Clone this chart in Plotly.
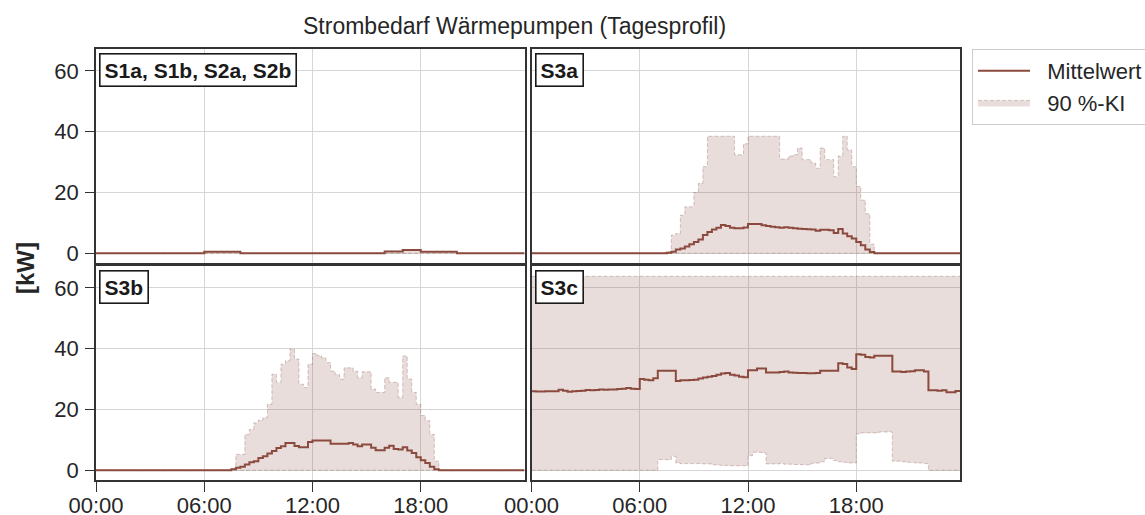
import plotly.graph_objects as go

# ---------------- data (15-min resolution, 96 slots per day) ----------------
TICK_HOURS = [0, 6, 12, 18]
TICK_LABELS = ["00:00", "06:00", "12:00", "18:00"]
Y_TICKS = [0, 20, 40, 60]
PANEL_NAMES = ["S1a, S1b, S2a, S2b", "S3a", "S3b", "S3c"]
HOURS = [q / 4 for q in range(96)]

S1_MEAN = [
    0, 0, 0, 0,  0, 0, 0, 0,  0, 0, 0, 0,  0, 0, 0, 0,  0, 0, 0, 0,  0, 0, 0, 0,
    0.5, 0.5, 0.5, 0.5,  0.5, 0.5, 0.5, 0.5,
    0, 0, 0, 0,  0, 0, 0, 0,  0, 0, 0, 0,  0, 0, 0, 0,
    0, 0, 0, 0,  0, 0, 0, 0,  0, 0, 0, 0,  0, 0, 0, 0,
    0.6, 0.6, 0.6, 0.6,  1.1, 1.1, 1.1, 1.1,  0.5, 0.5, 0.5, 0.5,  0.5, 0.5, 0.5, 0.5,
    0, 0, 0, 0,  0, 0, 0, 0,  0, 0, 0, 0,  0, 0, 0, 0,
]
S1_UP = [
    0, 0, 0, 0,  0, 0, 0, 0,  0, 0, 0, 0,  0, 0, 0, 0,  0, 0, 0, 0,  0, 0, 0, 0,
    0.6, 0.6, 0.6, 0.6,  0.6, 0.6, 0.6, 0.6,
    0, 0, 0, 0,  0, 0, 0, 0,  0, 0, 0, 0,  0, 0, 0, 0,
    0, 0, 0, 0,  0, 0, 0, 0,  0, 0, 0, 0,  0, 0, 0, 0,
    0.7, 0.7, 0.7, 0.7,  1.2, 1.2, 1.2, 1.2,  0.6, 0.6, 0.6, 0.6,  0.6, 0.6, 0.6, 0.6,
    0, 0, 0, 0,  0, 0, 0, 0,  0, 0, 0, 0,  0, 0, 0, 0,
]
S1_LOW = [0] * 96

S3A_MEAN = [
    0, 0, 0, 0,  0, 0, 0, 0,  0, 0, 0, 0,  0, 0, 0, 0,  0, 0, 0, 0,  0, 0, 0, 0,   # 00-05
    0, 0, 0, 0,                       # 06
    0, 0, 0.2, 0.5,                   # 07
    1.2, 1.6, 2.2, 3.0,               # 08
    3.7, 4.5, 6.0, 7.0,               # 09
    7.8, 8.4, 9.3, 9.0,               # 10
    8.4, 8.2, 8.2, 8.5,               # 11
    9.6, 9.6, 9.6, 9.2,               # 12
    9.0, 8.7, 8.6, 8.4,               # 13
    8.6, 8.4, 8.2, 8.1,               # 14
    8.0, 7.9, 7.8, 7.4,               # 15
    7.7, 7.7, 7.6, 6.7,               # 16
    8.0, 6.5, 5.6, 4.9,               # 17
    3.7, 2.6, 1.2, 0.4,               # 18
    0, 0, 0, 0,  0, 0, 0, 0,  0, 0, 0, 0,  0, 0, 0, 0,  0, 0, 0, 0,               # 19-23
]
S3A_UP = [
    0, 0, 0, 0,  0, 0, 0, 0,  0, 0, 0, 0,  0, 0, 0, 0,  0, 0, 0, 0,  0, 0, 0, 0,   # 00-05
    0, 0, 0, 0,                       # 06
    0, 0, 0.5, 6.0,                   # 07
    6.5, 12.5, 15.3, 15.3,            # 08
    20.0, 23.0, 28.5, 38.5,           # 09
    38.5, 38.5, 38.5, 38.5,           # 10
    38.5, 32.4, 32.4, 36.0,           # 11
    38.5, 38.5, 38.5, 38.5,           # 12
    38.5, 38.5, 38.5, 31.0,           # 13
    31.0, 32.0, 32.4, 34.6,           # 14
    30.8, 30.8, 29.7, 28.0,           # 15
    34.6, 30.8, 30.8, 25.2,           # 16
    32.0, 38.5, 34.0, 28.5,           # 17
    22.0, 17.5, 13.0, 3.0,            # 18
    0, 0, 0, 0,  0, 0, 0, 0,  0, 0, 0, 0,  0, 0, 0, 0,  0, 0, 0, 0,               # 19-23
]
S3A_LOW = [0] * 96

S3B_MEAN = [
    0, 0, 0, 0,  0, 0, 0, 0,  0, 0, 0, 0,  0, 0, 0, 0,  0, 0, 0, 0,  0, 0, 0, 0,   # 00-05
    0, 0, 0, 0,                       # 06
    0, 0, 0.3, 0.8,                   # 07
    1.2, 1.9, 2.6, 3.0,               # 08
    4.0, 4.6, 5.5, 6.3,               # 09
    7.3, 7.9, 9.0, 9.0,               # 10
    8.0, 7.6, 7.6, 9.3,               # 11
    9.8, 9.8, 9.8, 9.8,               # 12
    8.7, 8.7, 8.7, 8.7,               # 13
    9.0, 8.5, 7.9, 8.5,               # 14
    8.5, 7.4, 6.6, 6.6,               # 15
    7.4, 8.1, 7.0, 6.8,               # 16
    7.6, 6.5, 5.7, 4.3,               # 17
    3.3, 2.4, 1.2, 0.3,               # 18
    0, 0, 0, 0,  0, 0, 0, 0,  0, 0, 0, 0,  0, 0, 0, 0,  0, 0, 0, 0,               # 19-23
]
S3B_UP = [
    0, 0, 0, 0,  0, 0, 0, 0,  0, 0, 0, 0,  0, 0, 0, 0,  0, 0, 0, 0,  0, 0, 0, 0,   # 00-05
    0, 0, 0, 0,                       # 06
    0, 0, 0.5, 5.2,                   # 07
    5.2, 11.8, 13.4, 15.6,            # 08
    16.5, 17.3, 21.7, 31.6,           # 09
    28.9, 34.9, 36.0, 39.9,           # 10
    36.6, 28.3, 27.2, 34.9,           # 11
    38.4, 37.7, 37.0, 35.4,           # 12
    32.6, 31.5, 30.0, 33.7,           # 13
    33.7, 32.6, 30.4, 32.4,           # 14
    32.4, 26.7, 25.6, 25.6,           # 15
    30.4, 28.9, 28.9, 23.9,           # 16
    37.6, 30.0, 25.6, 21.7,           # 17
    18.0, 16.3, 11.8, 3.0,            # 18
    0, 0, 0, 0,  0, 0, 0, 0,  0, 0, 0, 0,  0, 0, 0, 0,  0, 0, 0, 0,               # 19-23
]
S3B_LOW = [0] * 96

S3C_MEAN = [
    26.0, 25.9, 25.9, 26.0,   # 00
    26.0, 26.0, 26.5, 26.2,   # 01
    25.8, 26.0, 26.1, 26.2,   # 02
    26.4, 26.3, 26.4, 26.6,   # 03
    26.5, 26.6, 26.6, 26.7,   # 04
    26.8, 27.1, 26.8, 26.7,   # 05
    30.0, 29.8, 29.6, 30.3,   # 06
    32.7, 32.7, 32.7, 32.7,   # 07
    29.4, 29.6, 29.6, 29.7,   # 08
    29.8, 30.2, 30.5, 30.8,   # 09
    31.0, 31.4, 31.8, 32.0,   # 10
    31.4, 31.2, 30.8, 30.6,   # 11
    32.9, 32.9, 33.5, 33.5,   # 12
    32.2, 32.2, 32.2, 32.3,   # 13
    32.5, 32.2, 32.1, 32.0,   # 14
    32.0, 31.9, 31.9, 32.0,   # 15
    32.7, 32.7, 32.7, 32.7,   # 16
    35.2, 35.0, 33.8, 33.3,   # 17
    38.2, 38.0, 37.3, 37.1,   # 18
    37.7, 37.7, 37.7, 37.7,   # 19
    32.5, 32.5, 32.3, 32.5,   # 20
    32.6, 32.9, 32.9, 32.5,   # 21
    26.3, 26.3, 26.2, 26.3,   # 22
    25.7, 25.7, 26.1, 26.1,   # 23
]
S3C_UP = [63.8] * 96
S3C_LOW = [
    0, 0, 0, 0,  0, 0, 0, 0,  0, 0, 0, 0,  0, 0, 0, 0,  0, 0, 0, 0,  0, 0, 0, 0,   # 00-05
    0, 0, 0, 0,               # 06
    3.5, 3.5, 3.5, 4.6,       # 07
    2.4, 2.2, 2.2, 2.2,       # 08
    2.2, 2.2, 2.1, 2.1,       # 09
    1.8, 1.7, 1.6, 1.6,       # 10
    1.5, 1.5, 1.5, 1.5,       # 11
    4.8, 5.9, 5.9, 5.7,       # 12
    2.1, 2.1, 2.1, 2.2,       # 13
    2.0, 2.0, 1.9, 1.9,       # 14
    1.8, 1.8, 2.3, 2.4,       # 15
    2.8, 3.9, 3.9, 3.2,       # 16
    2.8, 2.6, 2.4, 2.4,       # 17
    12.0, 12.3, 12.3, 12.3,   # 18
    12.3, 12.6, 12.6, 12.6,   # 19
    3.0, 3.0, 2.8, 2.6,       # 20
    2.6, 2.4, 2.4, 2.2,       # 21
    0, 0, 0, 0,  0, 0, 0, 0,  # 22-23
]

for arr in (S1_MEAN, S1_UP, S3A_MEAN, S3A_UP, S3B_MEAN, S3B_UP, S3C_MEAN, S3C_LOW):
    assert len(arr) == 96, len(arr)

# ---------------- styling ----------------
FONT = "Liberation Sans, Arial, sans-serif"
TEXT = "#262626"
LINE = "#8c4a3e"
FILL = "rgba(140,86,75,0.2)"
EDGE = "rgba(140,86,75,0.32)"
GRID = "#d6d6d6"
FRAME = "#333333"

W, H = 1145, 515
ML, MR, MT, MB = 96, 185, 49, 35
PW, PH = W - ML - MR, H - MT - MB

XD_L = [0, (524.5 - ML) / PW]
XD_R = [(531.5 - ML) / PW, 1]
YD_T = [(480 - 263) / PH, 1]
YD_B = [0, (480 - 266) / PH]

fig = go.Figure()

panels = [
    (PANEL_NAMES[0], S1_LOW, S1_UP, S1_MEAN, "x", "y"),
    (PANEL_NAMES[1], S3A_LOW, S3A_UP, S3A_MEAN, "x2", "y2"),
    (PANEL_NAMES[2], S3B_LOW, S3B_UP, S3B_MEAN, "x3", "y3"),
    (PANEL_NAMES[3], S3C_LOW, S3C_UP, S3C_MEAN, "x4", "y4"),
]

NB = "\u00a0\u00a0"
for i, (name, low, up, mean, xa, ya) in enumerate(panels):
    fig.add_trace(go.Scatter(
        x=HOURS, y=low, xaxis=xa, yaxis=ya, mode="lines", line_shape="hv",
        line=dict(color=EDGE, width=1, dash="4px,2px"), showlegend=False,
        hoverinfo="skip"))
    fig.add_trace(go.Scatter(
        x=HOURS, y=up, xaxis=xa, yaxis=ya, mode="lines", line_shape="hv",
        line=dict(color=EDGE, width=1, dash="4px,2px"), fill="tonexty",
        fillcolor=FILL, name=NB + "90 %-KI", showlegend=(i == 0), legendrank=2))
    fig.add_trace(go.Scatter(
        x=HOURS, y=mean, xaxis=xa, yaxis=ya, mode="lines", line_shape="hv",
        line=dict(color=LINE, width=2), name=NB + "Mittelwert",
        showlegend=(i == 0), legendrank=1))

axis_common = dict(
    showgrid=True, gridcolor=GRID, gridwidth=1, zeroline=False,
    showline=True, mirror=True, linecolor=FRAME, linewidth=1.6,
    tickfont=dict(family=FONT, size=22, color=TEXT), tickcolor=FRAME,
)
xcommon = dict(axis_common, range=[0, 23.75], tickvals=TICK_HOURS, ticktext=TICK_LABELS)
ycommon = dict(axis_common, range=[-3.2, 67.2], tickvals=Y_TICKS)

layout = dict(
    width=W, height=H,
    margin=dict(l=ML, r=MR, t=MT, b=MB, autoexpand=False),
    paper_bgcolor="white", plot_bgcolor="white",
    font=dict(family=FONT, color=TEXT),
    xaxis=dict(xcommon, domain=XD_L, anchor="y", showticklabels=False, ticks=""),
    xaxis2=dict(xcommon, domain=XD_R, anchor="y2", showticklabels=False, ticks=""),
    xaxis3=dict(xcommon, domain=XD_L, anchor="y3", ticks="outside", ticklen=10,
                tickwidth=1.3, ticklabelstandoff=-5),
    xaxis4=dict(xcommon, domain=XD_R, anchor="y4", ticks="outside", ticklen=10,
                tickwidth=1.3, ticklabelstandoff=-5),
    yaxis=dict(ycommon, domain=YD_T, anchor="x", ticks="outside", ticklen=9,
               tickwidth=1.3, ticklabelstandoff=2),
    yaxis2=dict(ycommon, domain=YD_T, anchor="x2", showticklabels=False, ticks=""),
    yaxis3=dict(ycommon, domain=YD_B, anchor="x3", ticks="outside", ticklen=9,
                tickwidth=1.3, ticklabelstandoff=2),
    yaxis4=dict(ycommon, domain=YD_B, anchor="x4", showticklabels=False, ticks=""),
    legend=dict(
        x=(972 - ML) / PW, y=1, xanchor="left", yanchor="top",
        bordercolor="#cccccc", borderwidth=1, bgcolor="white",
        font=dict(family=FONT, size=22, color=TEXT), itemwidth=52,
        tracegroupgap=0, traceorder="normal",
    ),
    showlegend=True,
)
fig.update_layout(**layout)

annotations = []
for name, _, _, _, xa, ya in panels:
    annotations.append(dict(
        text="<b>%s</b>" % name, xref="%s domain" % xa, yref="%s domain" % ya,
        x=0, y=1, xanchor="left", yanchor="top", xshift=3, yshift=-4,
        showarrow=False, font=dict(family=FONT, size=21, color="#1a1a1a"),
        bgcolor="white", bordercolor="#1a1a1a", borderwidth=1.6, borderpad=4,
    ))
annotations.append(dict(
    text="Strombedarf Wärmepumpen (Tagesprofil)", xref="paper", yref="paper",
    x=(514 - ML) / PW, y=1 + (MT - 26) / PH, xanchor="center", yanchor="middle",
    showarrow=False, font=dict(family=FONT, size=23, color=TEXT),
))
annotations.append(dict(
    text="<b>[kW]</b>", xref="paper", yref="paper",
    x=(25 - ML) / PW, y=(480 - 268) / PH, xanchor="center", yanchor="middle",
    textangle=-90, showarrow=False, font=dict(family=FONT, size=24, color=TEXT),
))
fig.update_layout(annotations=annotations)

fig.write_html("out.html", config={"displayModeBar": False},
               post_script="document.body.style.margin='0px';")
